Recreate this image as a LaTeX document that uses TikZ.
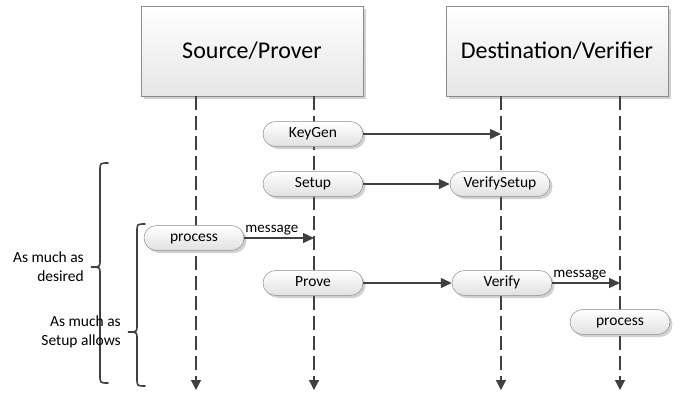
\documentclass[tikz,border=0pt]{standalone}
\usepackage{fontspec}
\setmainfont{Carlito}
\usetikzlibrary{arrows.meta,shadows}
\definecolor{ink}{HTML}{404040}
\definecolor{rim}{HTML}{8C8C8C}
\begin{document}
\begin{tikzpicture}[x=1pt,y=-1pt,
  softshadow/.style={drop shadow={shadow xshift=2.5pt, shadow yshift=-2.5pt, opacity=0.3, fill=black!60}},
  actor/.style={draw=rim, line width=0.6pt, top color=white, bottom color=black!10,
    minimum width=222pt, minimum height=90pt, inner sep=0pt,
    font=\fontsize{24}{28}\selectfont, softshadow},
  op/.style={draw=rim, line width=0.5pt, rounded corners=12.5pt, top color=white, bottom color=black!12,
    minimum width=100pt, minimum height=25pt, inner sep=0pt,
    text height=8pt, text depth=2pt,
    font=\fontsize{15.5}{18}\selectfont, softshadow},
  lifeline/.style={draw=ink, line width=1.3pt, dash pattern=on 14pt off 6pt,
    -{Triangle[length=10pt,width=10pt]}},
  msg/.style={draw=ink, line width=1.4pt, -{Triangle[length=11pt,width=10pt]}},
  msglabel/.style={font=\fontsize{15}{18}\selectfont, inner sep=0pt, anchor=south west},
  curly/.style={draw=ink, line width=1.6pt, line cap=round},
  note/.style={align=right, font=\fontsize{15.5}{19}\selectfont, inner sep=0pt, anchor=east}
]
\useasboundingbox (0,0) rectangle (683,397);

% participants
\node[actor] (src) at (252,51) {Source/Prover};
\node[actor] (dst) at (557,51) {Destination/Verifier};

% lifeline end points
\coordinate (s1top) at (196,96);  \coordinate (s1end) at (196,390);
\coordinate (s2top) at (314,96);  \coordinate (s2end) at (314,390);
\coordinate (d1top) at (501,96);  \coordinate (d1end) at (501,390);
\coordinate (d2top) at (620,96);  \coordinate (d2end) at (620,390);

\draw[lifeline] (s1top) -- (s1end);
\draw[lifeline] (s2top) -- (s2end);
\draw[lifeline] (d1top) -- (d1end);
\draw[lifeline] (d2top) -- (d2end);

% operations
\node[op] (keygen) at (313,134) {KeyGen};
\node[op] (setup)  at (313,184) {Setup};
\node[op] (vsetup) at (500,184) {VerifySetup};
\node[op] (procl)  at (194,238) {process};
\node[op] (prove)  at (313,283) {Prove};
\node[op] (verify) at (502,283) {Verify};
\node[op] (procr)  at (620,322) {process};

% messages
\draw[msg] (keygen.east) -- (keygen.east -| d1top);
\draw[msg] (setup.east) -- (vsetup.west);
\draw[msg] (procl.east) -- (procl.east -| s2top);
\node[msglabel] (m1) at ([xshift=1pt,yshift=3pt]procl.east) {message};
\draw[msg] (prove.east) -- (verify.west);
\draw[msg] (verify.east) -- (verify.east -| d2top);
\node[msglabel] (m2) at ([xshift=1pt,yshift=3pt]verify.east) {message};

% repetition braces
\draw[curly] (108,163) .. controls (100,163) .. (100,171) -- (100,260)
  .. controls (100,267) .. (91,267) .. controls (100,267) .. (100,274)
  -- (100,375) .. controls (100,383) .. (108,383);
\draw[curly] (145,224) .. controls (137,224) .. (137,232) -- (137,325)
  .. controls (137,332) .. (128,332) .. controls (137,332) .. (137,339)
  -- (137,378) .. controls (137,386) .. (145,386);

\node[note] (n1) at (84,267) {As much as\\desired};
\node[note] (n2) at (121,332) {As much as\\Setup allows};
\end{tikzpicture}
\end{document}
